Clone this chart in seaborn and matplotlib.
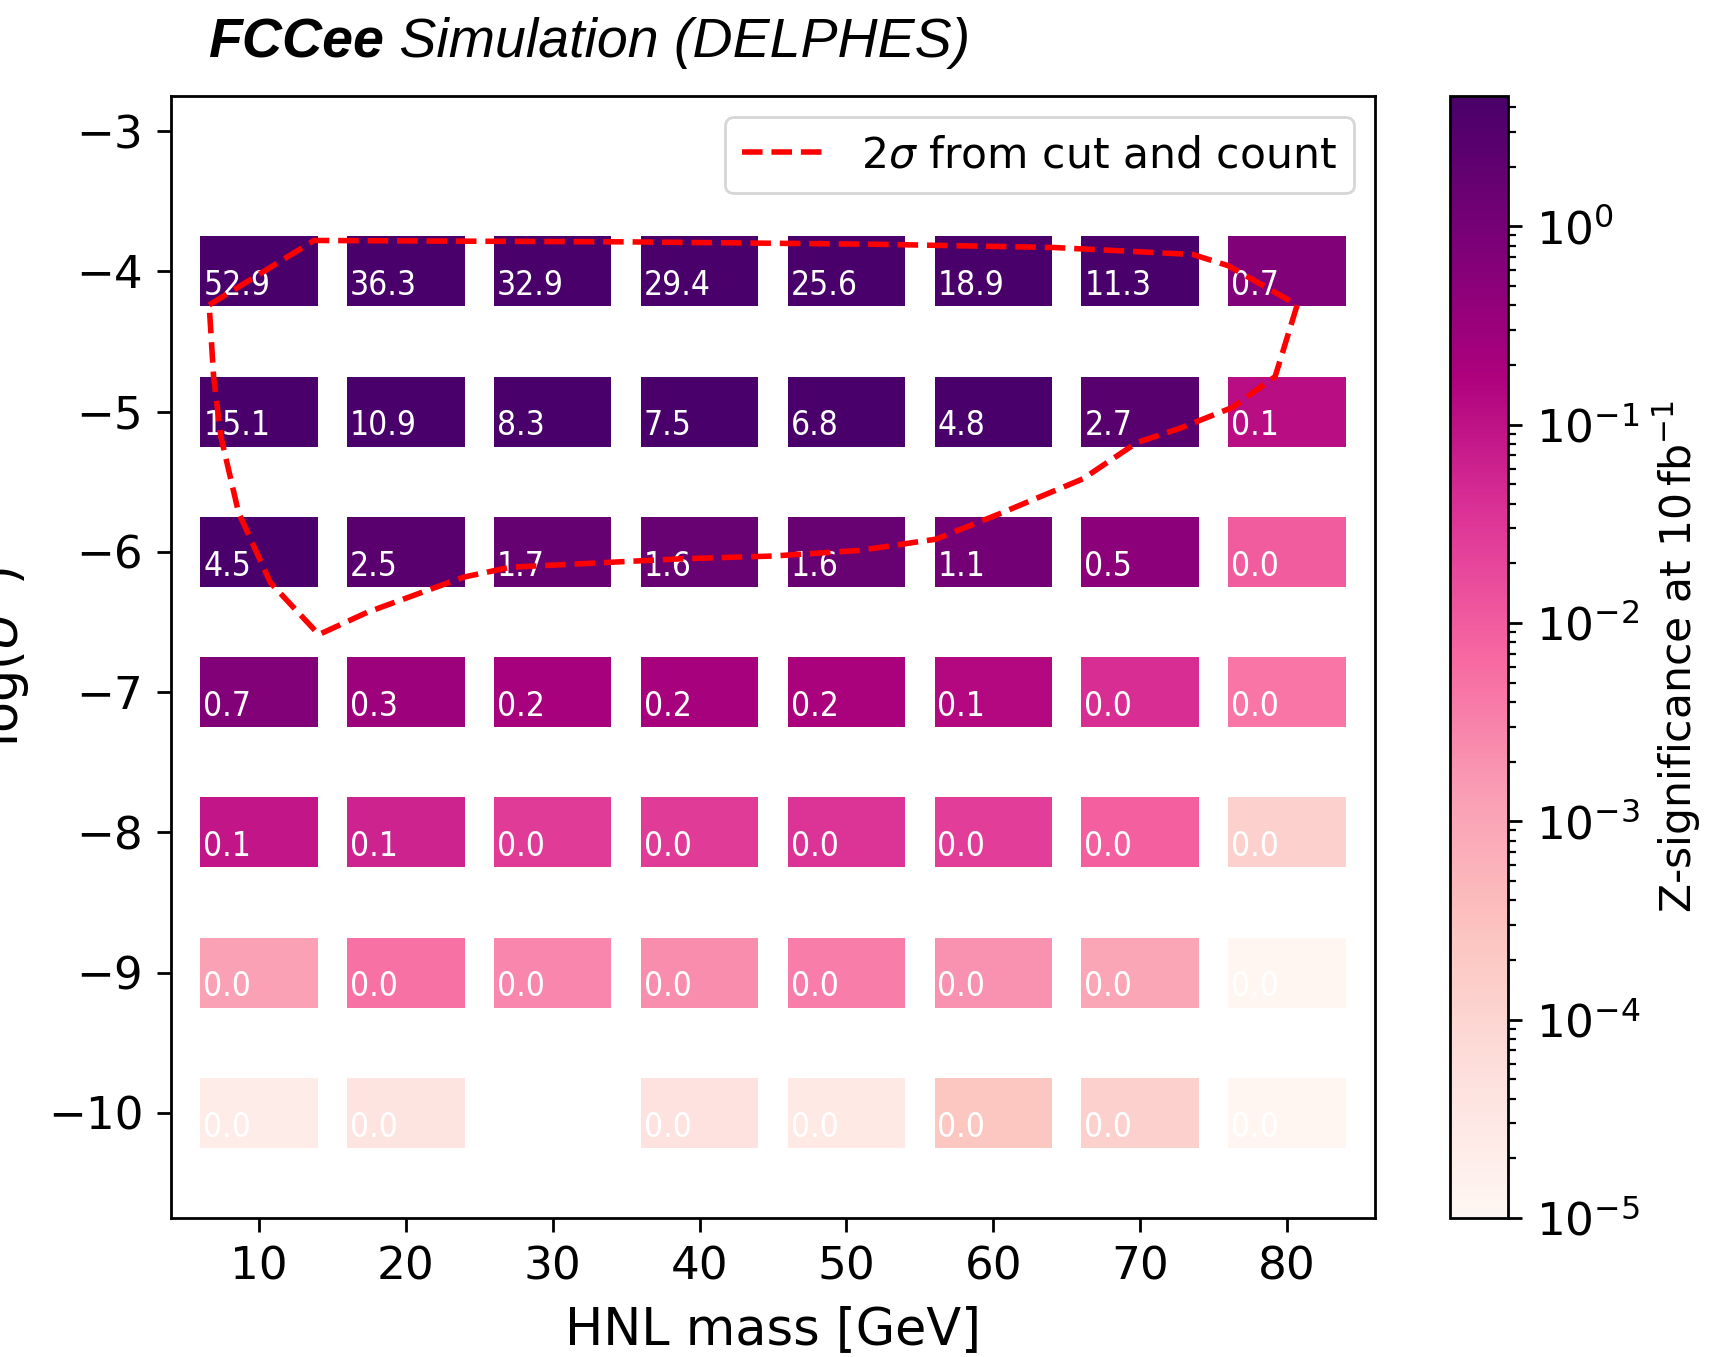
import numpy as np
import pandas as pd
import matplotlib
matplotlib.use("Agg")
import matplotlib.pyplot as plt
import seaborn as sns
from matplotlib.colors import LogNorm
from matplotlib.cm import ScalarMappable

# ---------------- data ----------------
masses = [10, 20, 30, 40, 50, 60, 70, 80]
log_u2 = [-4, -5, -6, -7, -8, -9, -10]
z_m4 = [52.9, 36.3, 32.9, 29.4, 25.6, 18.9, 11.3, 0.7]
z_m5 = [15.1, 10.9, 8.3, 7.5, 6.8, 4.8, 2.7, 0.12]
z_m6 = [4.5, 2.5, 1.7, 1.6, 1.6, 1.1, 0.5, 0.01]
z_m7 = [0.66, 0.29, 0.21, 0.21, 0.2, 0.14, 0.04, 0.0045]
z_m8 = [0.09, 0.06, 0.028, 0.028, 0.035, 0.025, 0.009, 1.4e-4]
z_m9 = [1.2e-3, 5e-3, 2.8e-3, 2.2e-3, 3.5e-3, 2e-3, 1e-3, 1.1e-5]
z_m10 = [2.2e-5, 4e-5, np.nan, 4.5e-5, 2.8e-5, 2.5e-4, 1.3e-4, 1.1e-5]

contour_mass = [6.6, 13.75, 23.7, 35.0, 45.0, 52.0, 64.1, 73.6, 76.0, 80.7, 79.2, 76.3,
                72.7, 69.8, 66.1, 60.4, 56.1, 50.9, 45.0, 38.7, 27.1, 23.95, 17.4,
                14.07, 10.77, 8.6, 7.4, 6.9, 6.6]
contour_logu2 = [-4.24, -3.78, -3.785, -3.79, -3.80, -3.807, -3.83, -3.88, -3.96, -4.24,
                 -4.75, -4.97, -5.12, -5.22, -5.48, -5.73, -5.91, -5.99, -6.03, -6.05,
                 -6.11, -6.18, -6.43, -6.59, -6.22, -5.72, -5.18, -4.75, -4.24]

xticks = [10, 20, 30, 40, 50, 60, 70, 80]
yticks = [-3, -4, -5, -6, -7, -8, -9, -10]

rows = [z_m4, z_m5, z_m6, z_m7, z_m8, z_m9, z_m10]
df = pd.DataFrame([(m, u, v) for u, r in zip(log_u2, rows) for m, v in zip(masses, r)],
                  columns=["mass", "logu2", "z"]).dropna()

# ---------------- style ----------------
sns.set_theme(style="ticks", rc={
    "axes.edgecolor": "black", "xtick.color": "black", "ytick.color": "black",
    "axes.linewidth": 0.8, "text.color": "black", "axes.labelcolor": "black",
})
plt.rcParams["font.family"] = ["DejaVu Sans"]
plt.rcParams["mathtext.fontset"] = "dejavusans"

fig = plt.figure(figsize=(8.58, 6.785), dpi=200)
ax = fig.add_axes([171/1716, 1 - 1218/1357, 1204/1716, 1122/1357])
cax = fig.add_axes([1450/1716, 1 - 1218/1357, 58/1716, 1122/1357])

cmap = plt.get_cmap("RdPu")
norm = LogNorm(vmin=1e-5, vmax=4.54)

colors = [cmap(norm(v)) for v in df["z"]]
ax.bar(df["mass"], 0.5, width=8, bottom=df["logu2"] - 0.25, color=colors,
       edgecolor="none", linewidth=0, zorder=1)

for m, u, v in zip(df["mass"], df["logu2"], df["z"]):
    ax.text(m - 3.8, u - 0.17, f"{v:.1f}", color="white", fontsize=12,
            fontstretch="condensed", ha="left", va="baseline", zorder=2)

sns.lineplot(x=contour_mass, y=contour_logu2, sort=False, estimator=None, ax=ax,
             color="red", linestyle="--", linewidth=2.0, zorder=3,
             label=r"2$\sigma$ from cut and count")

ax.set_xlim(4, 86)
ax.set_ylim(-10.75, -2.75)
ax.set_xticks(xticks)
ax.set_yticks(yticks)
ax.tick_params(labelsize=16.3, length=5.0, width=1.0, pad=5)
ax.set_xlabel("HNL mass [GeV]", fontsize=18.3, labelpad=6)
ax.set_ylabel(r"log($U^2$)", fontsize=18.3)
ax.yaxis.set_label_coords((32 - 171) / 1204, 0.5)
for s in ax.spines.values():
    s.set_visible(True)
    s.set_linewidth(1.0)
leg = ax.legend(loc="upper right", fontsize=15.3, frameon=True)

sm = ScalarMappable(norm=norm, cmap=cmap)
cb = fig.colorbar(sm, cax=cax)
cb.set_label(r"Z-significance at 10$\,$fb$^{-1}$", fontsize=15.3, labelpad=4)
cax.tick_params(which="major", labelsize=16.3, length=5.0, width=1.0, pad=5)
cax.tick_params(which="minor", length=2.8, width=0.8)
cb.outline.set_linewidth(1.0)

# title
t1 = fig.text(208/1716, 1 - 57/1357, "FCCee", fontsize=20, fontweight="bold",
              fontstyle="italic", family=["Liberation Sans", "DejaVu Sans"],
              ha="left", va="baseline")
fig.canvas.draw()
bb = t1.get_window_extent(renderer=fig.canvas.get_renderer())
fig.text(bb.x1 / fig.bbox.width, 1 - 57/1357, " Simulation (DELPHES)", fontsize=20,
         fontstyle="italic", family=["Liberation Sans", "DejaVu Sans"],
         ha="left", va="baseline")

fig.savefig("out.png", dpi=200)
